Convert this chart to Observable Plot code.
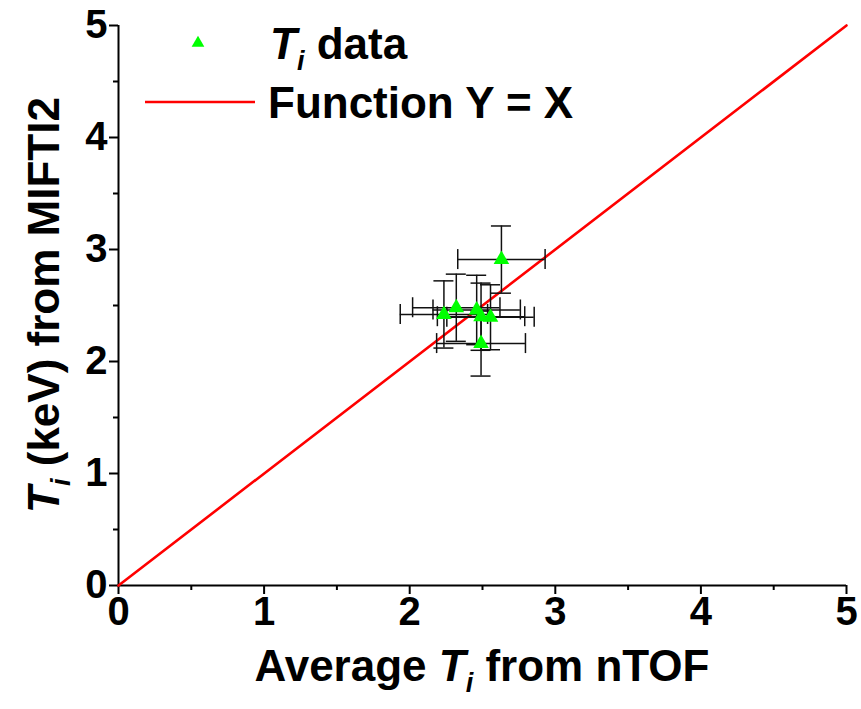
<!DOCTYPE html>
<html><head><meta charset="utf-8">
<script src="https://cdn.jsdelivr.net/npm/d3@7"></script>
<script src="https://cdn.jsdelivr.net/npm/@observablehq/plot@0.6"></script>
<style>
body{margin:0;background:#fff;}
#chart{position:relative;width:861px;height:709px;}
</style></head><body><div id="chart"></div>
<script>
// Data: average Ti from nTOF (x) vs Ti from MIFTI2 (y), with error bars
const xVals = [2.63, 2.32, 2.235, 2.46, 2.49, 2.555, 2.49];
const yVals = [2.91, 2.48, 2.42, 2.46, 2.40, 2.395, 2.16];
const xErr  = [0.30, 0.30, 0.30, 0.30, 0.30, 0.30, 0.305];
const yErr  = [0.30, 0.30, 0.30, 0.31, 0.30, 0.29, 0.29];
const lineXs = [0, 5];                // Function Y = X
const majorTicks = [0, 1, 2, 3, 4, 5];
const minorTicks = [0.5, 1.5, 2.5, 3.5, 4.5];

const pts = xVals.map((x, i) => ({x, y: yVals[i], xe: xErr[i], ye: yErr[i]}));
const FONT = "'Liberation Sans', Arial, sans-serif";
const capInset = -10;

const plot = Plot.plot({
  width: 861, height: 709,
  marginLeft: 118, marginRight: 15, marginTop: 25, marginBottom: 124,
  x: {domain: [0, 5]},
  y: {domain: [0, 5]},
  style: {fontFamily: FONT, fontWeight: "bold", fontSize: "40px", background: "#fff", color: "#000"},
  marks: [
    Plot.axisX({ticks: majorTicks, tickSize: 9, tickPadding: 2, tickFormat: d => String(d), label: null, strokeWidth: 2}),
    Plot.axisX({ticks: minorTicks, tickSize: 5, tickFormat: () => "", label: null, strokeWidth: 2}),
    Plot.axisY({ticks: majorTicks, tickSize: 9, tickPadding: 2, tickFormat: d => String(d), label: null, strokeWidth: 2}),
    Plot.axisY({ticks: minorTicks, tickSize: 5, tickFormat: () => "", label: null, strokeWidth: 2}),
    Plot.ruleX([0], {stroke: "#000", strokeWidth: 2}),
    Plot.ruleY([0], {stroke: "#000", strokeWidth: 2}),
    Plot.line(lineXs, {x: d => d, y: d => d, stroke: "#ff0000", strokeWidth: 2.6}),
    // horizontal error bars
    Plot.ruleY(pts, {y: "y", x1: d => d.x - d.xe, x2: d => d.x + d.xe, stroke: "#111", strokeWidth: 1.5}),
    Plot.ruleX(pts, {x: d => d.x - d.xe, y1: "y", y2: "y", insetTop: capInset, insetBottom: capInset, stroke: "#111", strokeWidth: 1.5}),
    Plot.ruleX(pts, {x: d => d.x + d.xe, y1: "y", y2: "y", insetTop: capInset, insetBottom: capInset, stroke: "#111", strokeWidth: 1.5}),
    // vertical error bars
    Plot.ruleX(pts, {x: "x", y1: d => d.y - d.ye, y2: d => d.y + d.ye, stroke: "#111", strokeWidth: 1.5}),
    Plot.ruleY(pts, {y: d => d.y - d.ye, x1: "x", x2: "x", insetLeft: capInset, insetRight: capInset, stroke: "#111", strokeWidth: 1.5}),
    Plot.ruleY(pts, {y: d => d.y + d.ye, x1: "x", x2: "x", insetLeft: capInset, insetRight: capInset, stroke: "#111", strokeWidth: 1.5}),
    Plot.dot(pts, {x: "x", y: "y", symbol: "triangle", r: 5.8, fill: "#00ff00", stroke: "none"})
  ]
});
document.getElementById("chart").appendChild(plot);

const svg = d3.select(plot);
const TS = 44;
// X axis title
const xt = svg.append("text").attr("x", 482).attr("y", 681).attr("text-anchor", "middle")
  .attr("font-family", FONT).attr("font-weight", "bold").attr("font-size", TS).attr("fill", "#000");
xt.append("tspan").text("Average ");
xt.append("tspan").attr("font-style", "italic").text("T");
xt.append("tspan").attr("font-style", "italic").attr("font-size", 27).attr("dy", 11).text("i");
xt.append("tspan").attr("dy", -11).text(" from nTOF");

// Y axis title
const yt = svg.append("text").attr("transform", "translate(59,305) rotate(-90)").attr("text-anchor", "middle")
  .attr("font-family", FONT).attr("font-weight", "bold").attr("font-size", TS).attr("fill", "#000");
yt.append("tspan").attr("font-style", "italic").text("T");
yt.append("tspan").attr("font-style", "italic").attr("font-size", 27).attr("dy", 11).text("i");
yt.append("tspan").attr("dy", -11).text(" (keV) from MIFTI2");

// Legend
const lg = svg.append("g").attr("text-anchor", "start");
lg.append("path").attr("d", d3.symbol(d3.symbolTriangle, 70)()).attr("transform", "translate(198,43)").attr("fill", "#00ff00");
const l1 = lg.append("text").attr("x", 270).attr("y", 59).attr("text-anchor", "start").attr("font-family", FONT).attr("font-weight", "bold").attr("font-size", TS).attr("fill", "#000");
l1.append("tspan").attr("font-style", "italic").text("T");
l1.append("tspan").attr("font-style", "italic").attr("font-size", 27).attr("dy", 11).text("i");
l1.append("tspan").attr("dy", -11).text(" data");
lg.append("line").attr("x1", 145).attr("x2", 255).attr("y1", 102).attr("y2", 102).attr("stroke", "#ff0000").attr("stroke-width", 2.6);
lg.append("text").attr("x", 268).attr("y", 118).attr("text-anchor", "start").attr("font-family", FONT).attr("font-weight", "bold").attr("font-size", TS).attr("fill", "#000").text("Function Y = X");
</script>
</body></html>
